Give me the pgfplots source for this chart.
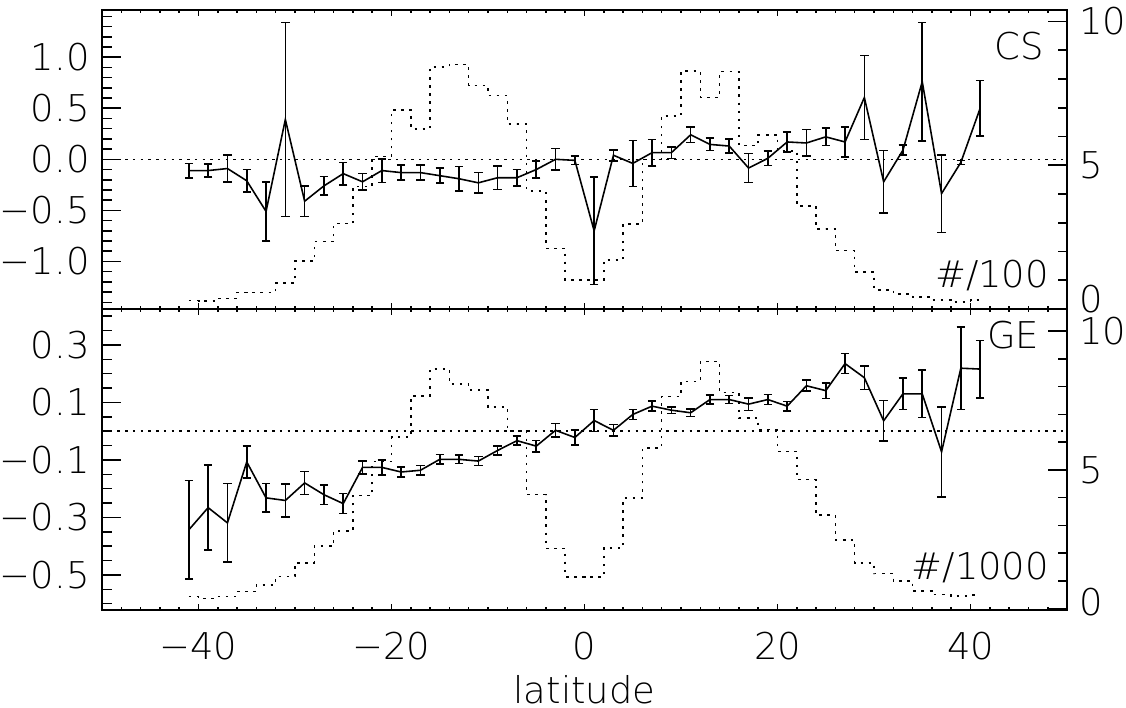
\documentclass[border=0pt]{standalone}
\usepackage{fontspec}
\setmainfont{DejaVu Sans}[UprightFont={* ExtraLight}]
\usepackage{pgfplots}
\usepackage{pgfplotstable}
\pgfplotsset{compat=1.18}

% lat, mean, error, histogram (right axis)
\pgfplotstableread{
lat   v      e      h
-41  -0.11   0.07   0.30
-39  -0.11   0.065  0.28
-37  -0.09   0.13   0.36
-35  -0.21   0.11   0.58
-33  -0.51   0.29   0.58
-31   0.39   0.95   0.91
-29  -0.41   0.15   1.66
-27  -0.26   0.09   2.34
-25  -0.14   0.11   2.97
-23  -0.22   0.08   4.26
-21  -0.11   0.115  5.31
-19  -0.13   0.075  6.93
-17  -0.13   0.075  6.27
-15  -0.16   0.073  8.42
-13  -0.19   0.12   8.51
-11  -0.23   0.10   7.78
-9   -0.18   0.115  7.42
-7   -0.18   0.08   6.43
-5   -0.10   0.085  4.11
-3    0.00   0.107  2.11
-1   -0.01   0.04   1.01
1    -0.70   0.525  1.01
3     0.04   0.054  1.71
5    -0.04   0.226  2.96
7     0.065  0.13   5.20
9     0.065  0.057  6.72
11    0.24   0.075  8.28
13    0.146  0.06   7.35
15    0.13   0.07   8.26
17   -0.085  0.143  5.68
19    0.01   0.072  6.05
21    0.17   0.096  5.50
23    0.16   0.13   3.59
25    0.22   0.086  2.78
27    0.17   0.146  2.03
29    0.605  0.41   1.28
31   -0.22   0.306  0.67
33    0.09   0.05   0.53
35    0.76   0.58   0.41
37   -0.335  0.38   0.32
39   -0.03   0.02   0.24
41    0.50   0.27   0.32
}\cs

\pgfplotstableread{
lat   v      e      h
-41  -0.343  0.172  0.43
-39  -0.266  0.148  0.37
-37  -0.319  0.137  0.43
-35  -0.107  0.055  0.61
-33  -0.232  0.05   0.86
-31  -0.241  0.058  1.15
-29  -0.18   0.04   1.65
-27  -0.221  0.034  2.25
-25  -0.252  0.035  2.80
-23  -0.126  0.022  4.08
-21  -0.126  0.026  5.30
-19  -0.142  0.017  6.18
-17  -0.136  0.016  7.67
-15  -0.098  0.017  8.64
-13  -0.098  0.015  8.09
-11  -0.104  0.016  7.87
-9   -0.067  0.015  7.27
-7   -0.033  0.016  6.40
-5   -0.052  0.02   4.11
-3    0.003  0.023  2.17
-1   -0.022  0.027  1.14
1     0.037  0.038  1.14
3     0.003  0.02   2.19
5     0.058  0.017  3.98
7     0.087  0.017  5.79
9     0.073  0.012  7.65
11    0.064  0.013  8.19
13    0.11   0.015  8.91
15    0.11   0.014  7.79
17    0.094  0.022  6.87
19    0.11   0.017  6.45
21    0.087  0.016  5.67
23    0.158  0.019  4.65
25    0.141  0.027  3.37
27    0.235  0.035  2.47
29    0.186  0.041  1.65
31    0.036  0.07   1.26
33    0.13   0.054  1.00
35    0.13   0.083  0.64
37   -0.072  0.157  0.51
39    0.219  0.143  0.46
41    0.216  0.10   0.48
}\ge

\tikzset{lab/.style={anchor=east, inner sep=0pt, font=\fontsize{10.5}{12.5}\selectfont}}

\pgfplotsset{
  panel/.style={
    scale only axis, width=9.65cm,
    xmin=-50, xmax=50,
    tick align=inside,
    axis line style={line width=0.55pt},
    every tick/.style={black, line width=0.45pt},
    tick label style={font=\fontsize{10.5}{12.5}\selectfont},
    clip=false,
  },
  yleft/.style={panel, ytick pos=left, xtick=\empty,
    major tick length=0.19cm, minor tick length=0.10cm},
  yright/.style={panel, ytick pos=right, yticklabel pos=right, xtick=\empty,
    major tick length=0.19cm, minor tick length=0.095cm,
    ytick={0,5,10}, minor ytick={0,1,...,10}},
  xonly/.style={panel, ytick=\empty,
    xtick={-40,-20,0,20,40}, minor xtick={-48,-46,...,48},
    major tick length=0.06cm, minor tick length=0.03cm},
  zero/.style={black, line width=0.45pt, dash pattern=on 0.7pt off 1.5pt},
  hist/.style={black, line width=0.45pt, dash pattern=on 0.7pt off 1.6pt, const plot mark mid},
  dat/.style={black, line width=0.45pt,
    error bars/.cd, y dir=both, y explicit,
    error bar style={line width=0.45pt},
    error mark options={rotate=90, black, line width=0.45pt, mark size=1.2pt}},
}

\begin{document}
\begin{tikzpicture}
% ---------- top panel: CS ----------
\begin{axis}[yleft, at={(1.02cm,3.99cm)}, anchor=south west, height=2.99cm,
  ymin=-1.465, ymax=1.462,
  ytick={-1,-0.5,0,0.5,1}, yticklabels={−1.0,−0.5,0.0,0.5,1.0},
  minor ytick={-1.4,-1.3,...,1.45}]
\addplot[zero] coordinates {(-50,0) (50,0)};
\addplot[dat] table[x=lat, y=v, y error=e] {\cs};
\node[lab] at (rel axis cs:0.977,0.88) {CS};
\node[lab] at (rel axis cs:0.982,0.113) {\#/100};
\end{axis}
\begin{axis}[yright, at={(1.02cm,3.99cm)}, anchor=south west, height=2.99cm,
  ymin=0, ymax=10.4,
  yticklabel={\ifcase\ticknum\raisebox{0.2cm}{0}\or5\or\raisebox{-0.04cm}{10}\fi}]
\addplot[hist] table[x=lat, y=h] {\cs};
\end{axis}
\begin{axis}[xonly, at={(1.02cm,3.99cm)}, anchor=south west, height=2.99cm,
  ymin=0, ymax=1, xticklabels={}]
\end{axis}
% ---------- bottom panel: GE ----------
\begin{axis}[yleft, at={(1.02cm,0.98cm)}, anchor=south west, height=3.01cm,
  ymin=-0.622, ymax=0.425,
  ytick={-0.5,-0.3,-0.1,0.1,0.3}, yticklabels={−0.5,−0.3,−0.1,0.1,0.3},
  minor ytick={-0.6,-0.55,...,0.42}]
\addplot[zero] coordinates {(-50,0) (50,0)};
\addplot[dat] table[x=lat, y=v, y error=e] {\ge};
\node[lab] at (rel axis cs:0.972,0.914) {GE};
\node[lab] at (rel axis cs:0.982,0.141) {\#/1000};
\end{axis}
\begin{axis}[yright, at={(1.02cm,0.98cm)}, anchor=south west, height=3.01cm,
  ymin=-0.05, ymax=10.8,
  yticklabel={\ifcase\ticknum\raisebox{0.14cm}{0}\or5\or\raisebox{-0.06cm}{10}\fi}]
\addplot[hist] table[x=lat, y=h] {\ge};
\end{axis}
\begin{axis}[xonly, at={(1.02cm,0.98cm)}, anchor=south west, height=3.01cm,
  ymin=0, ymax=1,
  xticklabels={−40,−20,0,20,40},
  xticklabel style={yshift=-0.1cm},
  xlabel={latitude},
  xlabel style={font=\fontsize{10.5}{12.5}\selectfont, at={(axis description cs:0.5,0)}, anchor=north, yshift=-0.53cm}]
\end{axis}
\pgfresetboundingbox
\path (0,0) rectangle (11.26cm,7.08cm);
\end{tikzpicture}
\end{document}
